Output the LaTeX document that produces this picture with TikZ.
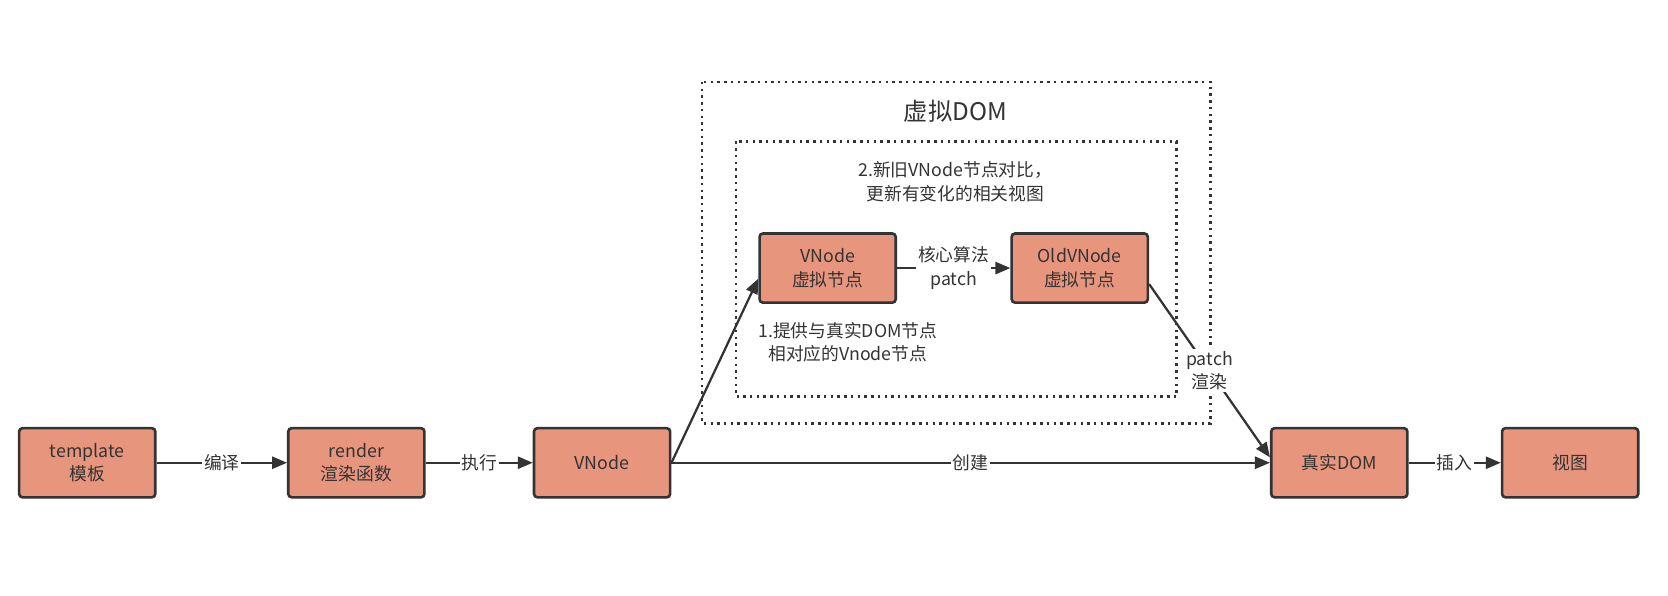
\documentclass[tikz,border=0pt]{standalone}
\usepackage{fontspec}
\setmainfont{Noto Sans CJK SC}
\usetikzlibrary{arrows.meta}
\definecolor{boxfill}{HTML}{E8957E}
\definecolor{ink}{HTML}{333333}

\begin{document}
\begin{tikzpicture}[x=0.02cm, y=-0.02cm, every node/.style={font=\fontsize{9.5}{12.5}\selectfont, text=ink, align=center},
	box/.style={draw=ink, fill=boxfill, line width=1.4pt, rounded corners=1.8pt, minimum width=2.56cm, minimum height=1.3cm},
	flow/.style={draw=ink, line width=1.2pt, -{Triangle[length=8pt,width=6.5pt]}},
	lbl/.style={fill=white, inner sep=1pt},
	frame/.style={draw=ink, line width=1.4pt, dash pattern=on 1.3pt off 2.3pt}]
	\useasboundingbox (0,0) rectangle (1568,560);
	\draw[frame] (660,77) rectangle (1138,398);
	\draw[frame] (692,133) rectangle (1106,373);
	\node[box] (tpl) at (82,435) {template\\模板};
	\node[box] (rnd) at (335,435) {render\\渲染函数};
	\node[box] (vnode) at (566,435) {VNode};
	\node[box] (dom) at (1259,435) {真实DOM};
	\node[box] (view) at (1476,435) {视图};
	\node[box] (vnew) at (778,252) {VNode\\虚拟节点};
	\node[box] (vold) at (1015,252) {OldVNode\\虚拟节点};
	\node[font=\fontsize{13}{15}\selectfont] (title) at (898,105) {虚拟DOM};
	\node (diff) at (898,171) {2.新旧VNode节点对比，\\更新有变化的相关视图};
	\node (hint) at (797,322) {1.提供与真实DOM节点\\相对应的Vnode节点};
	\draw[flow] (tpl) -- node[lbl] {编译} (rnd);
	\draw[flow] (rnd) -- node[lbl] {执行} (vnode);
	\draw[flow] (vnode) -- node[lbl] {创建} (dom);
	\draw[flow] (dom) -- node[lbl] {插入} (view);
	\draw[flow] (vnode.east) -- ([yshift=-0.2cm]vnew.west);
	\draw[flow] (vnew) -- node[lbl] {核心算法\\patch} (vold);
	\draw[flow] ([yshift=-0.3cm]vold.east) -- node[lbl] {patch\\渲染} ([yshift=0.1cm]dom.west);
\end{tikzpicture}
\end{document}
